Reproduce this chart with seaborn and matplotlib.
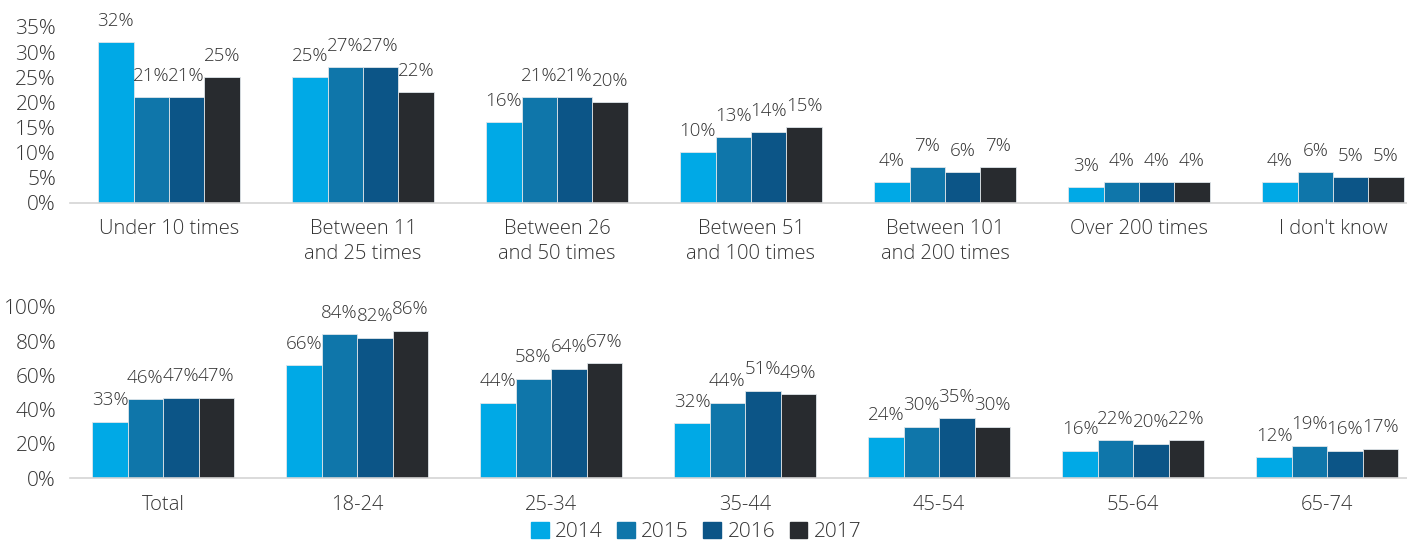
import matplotlib
matplotlib.use("Agg")
import matplotlib.pyplot as plt
import matplotlib.patches as mpatches
import seaborn as sns
import pandas as pd

# Frequency of use (share of respondents, %)
freq_categories = ["Under 10 times", "Between 11\nand 25 times", "Between 26\nand 50 times",
                   "Between 51\nand 100 times", "Between 101\nand 200 times",
                   "Over 200 times", "I don't know"]
freq_2014 = [32, 25, 16, 10, 4, 3, 4]
freq_2015 = [21, 27, 21, 13, 7, 4, 6]
freq_2016 = [21, 27, 21, 14, 6, 4, 5]
freq_2017 = [25, 22, 20, 15, 7, 4, 5]

# Penetration by age group (%)
age_categories = ["Total", "18-24", "25-34", "35-44", "45-54", "55-64", "65-74"]
age_2014 = [33, 66, 44, 32, 24, 16, 12]
age_2015 = [46, 84, 58, 44, 30, 22, 19]
age_2016 = [47, 82, 64, 51, 35, 20, 16]
age_2017 = [47, 86, 67, 49, 30, 22, 17]

years = ["2014", "2015", "2016", "2017"]
colors = ["#00A9E6", "#0F76AA", "#0C5587", "#282B2F"]

sns.set_theme(style="white")
plt.rcParams["font.family"] = ["Open Sans", "DejaVu Sans"]
TEXT = "#333333"


def long_frame(categories, series):
    rows = []
    for year, values in zip(years, series):
        for cat, v in zip(categories, values):
            rows.append({"category": cat, "year": year, "value": v})
    return pd.DataFrame(rows)


fig = plt.figure(figsize=(14.07, 5.44), dpi=100)
left = 70 / 1407
ax_top = fig.add_axes([left, 1 - 202.5 / 544, 1 - left, (202.5 - 27) / 544])
ax_bot = fig.add_axes([left, 1 - 478 / 544, 1 - left, (478 - 307) / 544])


def draw(ax, categories, series, ymax, step, x0):
    df = long_frame(categories, series)
    sns.barplot(data=df, x="category", y="value", hue="year", order=categories,
                hue_order=years, palette=colors, width=0.73, saturation=1,
                edgecolor="#dfe6ea", linewidth=0.6, legend=False, ax=ax)
    for container in ax.containers:
        ax.bar_label(container, fmt="{:.0f}%", padding=9, fontsize=13.5,
                     color=TEXT, fontweight="light", clip_on=False)
    ax.set_ylim(0, ymax)
    ax.set_xlim(x0, x0 + (1407 - 70) / 194.0)
    ticks = list(range(0, ymax + 1, step))
    ax.set_yticks(ticks)
    ax.set_yticklabels([f"{t}%" for t in ticks], fontsize=15, color=TEXT,
                       fontweight="light")
    ax.set_xticks(range(len(categories)))
    ax.set_xticklabels(categories, fontsize=14.5, color=TEXT, fontweight="light",
                       linespacing=1.3, va="top")
    ax.tick_params(axis="y", length=0, pad=10)
    ax.tick_params(axis="x", length=0, pad=12)
    ax.set_xlabel("")
    ax.set_ylabel("")
    for side in ["top", "right", "left"]:
        ax.spines[side].set_visible(False)
    ax.spines["bottom"].set_color("#d4d4d4")
    ax.spines["bottom"].set_linewidth(1.2)
    ax.grid(False)


draw(ax_top, freq_categories, [freq_2014, freq_2015, freq_2016, freq_2017], 35, 5, -0.51)
draw(ax_bot, age_categories, [age_2014, age_2015, age_2016, age_2017], 100, 20, -0.48)

handles = [mpatches.Patch(color=c, label=y) for c, y in zip(colors, years)]
fig.legend(handles=handles, loc="center", bbox_to_anchor=(696 / 1407, 1 - 532 / 544),
           ncol=4, frameon=False, handlelength=0.85, handleheight=0.85,
           handletextpad=0.3, columnspacing=0.7, labelcolor=TEXT,
           prop={"weight": "light", "size": 15})

fig.savefig("out.png", dpi=100)
